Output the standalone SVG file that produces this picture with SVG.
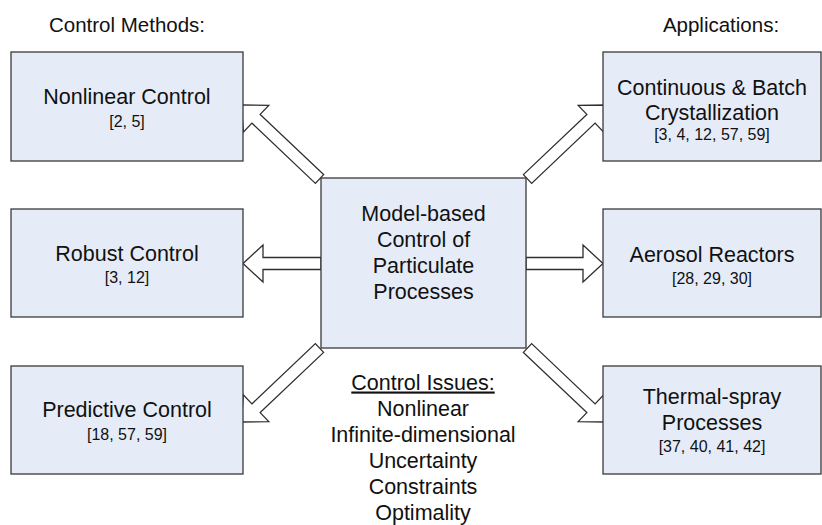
<svg xmlns="http://www.w3.org/2000/svg" width="822" height="525" viewBox="0 0 822 525">
<style>
.box{fill:#e6ecf7;stroke:#3a3a3a;stroke-width:1.3}
.arrow{fill:#ffffff;stroke:#2e2e2e;stroke-width:1.3;stroke-linejoin:miter}
text{font-family:"Liberation Sans",Arial,sans-serif;fill:#111111;text-anchor:middle}
.t{font-size:21.5px}
.r{font-size:16px}
.h{font-size:20.5px}
</style>
<defs>
<polygon id="diag" points="0,-6 87.5,-6 87.5,-18.5 107.5,0 87.5,18.5 87.5,6 0,6"/>
</defs>
<rect width="822" height="525" fill="#ffffff"/>
<text class="h" x="127" y="32">Control Methods:</text>
<text class="h" x="721" y="32">Applications:</text>
<g id="connectors">
<polygon class="arrow" points="321,257.5 263,257.5 263,245 243,263.5 263,282 263,269.5 321,269.5"/>
<polygon class="arrow" points="526,257.5 583,257.5 583,245 603,263.5 583,282 583,269.5 526,269.5"/>
<use href="#diag" class="arrow" transform="translate(319.5,179) rotate(223.5)"/>
<use href="#diag" class="arrow" transform="translate(527.5,179) rotate(-43.5)"/>
<use href="#diag" class="arrow" transform="translate(319.5,348) rotate(136.5)"/>
<use href="#diag" class="arrow" transform="translate(527.5,348) rotate(43.5)"/>
</g>
<g id="center">
<rect class="box" x="321" y="178" width="205" height="170"/>
<text class="t" x="423.5" y="221">Model-based</text>
<text class="t" x="423.5" y="247">Control of</text>
<text class="t" x="423.5" y="273">Particulate</text>
<text class="t" x="423.5" y="299">Processes</text>
</g>
<g id="nonlinear">
<rect class="box" x="11" y="52" width="232" height="109"/>
<text class="t" x="127" y="104">Nonlinear Control</text>
<text class="r" x="127" y="127">[2, 5]</text>
</g>
<g id="robust">
<rect class="box" x="11" y="209" width="232" height="108"/>
<text class="t" x="127" y="261">Robust Control</text>
<text class="r" x="127" y="283">[3, 12]</text>
</g>
<g id="predictive">
<rect class="box" x="11" y="366" width="232" height="108"/>
<text class="t" x="127" y="417">Predictive Control</text>
<text class="r" x="127" y="439.5">[18, 57, 59]</text>
</g>
<g id="crystallization">
<rect class="box" x="603" y="52" width="218" height="109"/>
<text class="t" x="712" y="95">Continuous &amp; Batch</text>
<text class="t" x="712" y="119.5">Crystallization</text>
<text class="r" x="712" y="140">[3, 4, 12, 57, 59]</text>
</g>
<g id="aerosol">
<rect class="box" x="603" y="209" width="218" height="108"/>
<text class="t" x="712" y="261.5">Aerosol Reactors</text>
<text class="r" x="712" y="283.5">[28, 29, 30]</text>
</g>
<g id="thermal">
<rect class="box" x="603" y="366" width="218" height="108"/>
<text class="t" x="712" y="404">Thermal-spray</text>
<text class="t" x="712" y="429.5">Processes</text>
<text class="r" x="712" y="452">[37, 40, 41, 42]</text>
</g>
<g id="issues">
<text class="t" x="423" y="389.5" text-decoration="underline">Control Issues:</text>
<text class="t" x="423" y="415.5">Nonlinear</text>
<text class="t" x="423" y="441.5">Infinite-dimensional</text>
<text class="t" x="423" y="467.5">Uncertainty</text>
<text class="t" x="423" y="493.5">Constraints</text>
<text class="t" x="423" y="519.5">Optimality</text>
</g>
</svg>
